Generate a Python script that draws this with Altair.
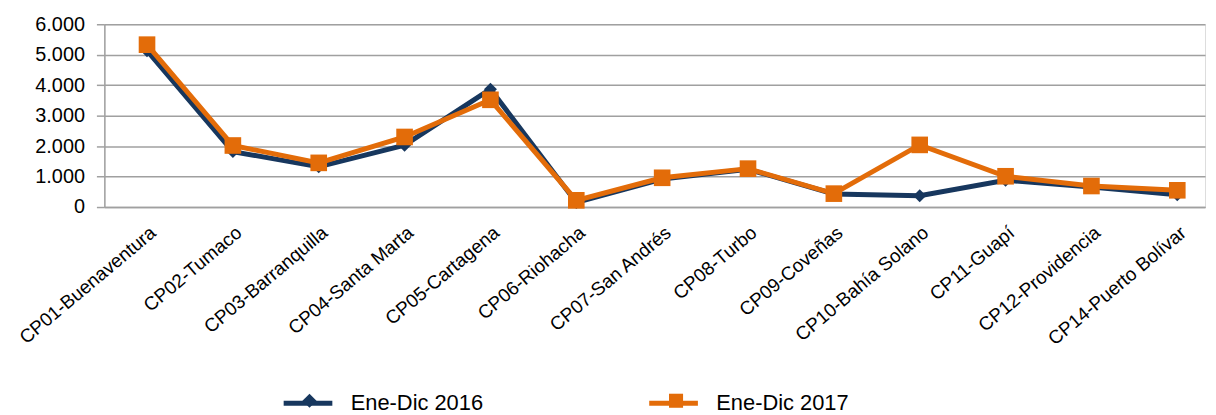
import altair as alt
import pandas as pd

categories = ["CP01-Buenaventura", "CP02-Tumaco", "CP03-Barranquilla", "CP04-Santa Marta",
              "CP05-Cartagena", "CP06-Riohacha", "CP07-San Andrés", "CP08-Turbo",
              "CP09-Coveñas", "CP10-Bahía Solano", "CP11-Guapí", "CP12-Providencia",
              "CP14-Puerto Bolívar"]
series_names = ["Ene-Dic 2016", "Ene-Dic 2017"]
values_2016 = [5130, 1820, 1320, 2030, 3870, 150, 920, 1240, 430, 370, 880, 660, 400]
values_2017 = [5330, 2020, 1450, 2300, 3520, 220, 960, 1260, 440, 2040, 1010, 690, 550]
colors = ["#17375E", "#E36C09"]
shapes = ["diamond", "square"]

rows = []
for s, vals in zip(series_names, [values_2016, values_2017]):
    for c, v in zip(categories, vals):
        rows.append({"Puerto": c, "Serie": s, "Valor": v})
df = pd.DataFrame(rows)

FONT = "Liberation Sans"

x = alt.X("Puerto:N", sort=categories,
          scale=alt.Scale(type="point", padding=0.41, align=0.606),
          axis=alt.Axis(title=None, labelAngle=-40, labelFontSize=19, labelColor="#000000",
                        labelFont=FONT, ticks=False, domainColor="#A0A0A0", domainWidth=1.5,
                        labelPadding=16, grid=False))
y = alt.Y("Valor:Q", scale=alt.Scale(domain=[0, 6000], nice=False),
          axis=alt.Axis(title=None, values=[0, 1000, 2000, 3000, 4000, 5000, 6000],
                        labelExpr="replace(format(datum.value, ','), ',', '.')",
                        labelFontSize=20, labelFont=FONT, labelColor="#000000",
                        tickSize=8, tickColor="#A0A0A0", tickWidth=1.5,
                        domainColor="#A0A0A0", domainWidth=1.5,
                        gridColor="#A0A0A0", gridWidth=1.5, labelPadding=12))

color_scale = alt.Scale(domain=series_names, range=colors)

lines = alt.Chart(df).mark_line(strokeWidth=5).encode(
    x=x, y=y,
    color=alt.Color("Serie:N", scale=color_scale,
                    legend=alt.Legend(title=None, orient="none", direction="horizontal",
                                      legendX=178, legendY=354.5,
                                      symbolType="stroke", symbolSize=2401,
                                      symbolStrokeWidth=5, labelFontSize=22,
                                      labelFont=FONT, labelColor="#000000",
                                      labelOffset=16, columnPadding=156)),
    order=alt.Order("Serie:N"),
    detail="Serie:N",
)

points = alt.Chart(df).mark_point(filled=True, opacity=1).encode(
    x=x, y=y,
    color=alt.Color("Serie:N", scale=color_scale,
                    legend=alt.Legend(title=None, orient="none", direction="horizontal",
                                      legendX=195.5, legendY=368,
                                      symbolSize=200, symbolOpacity=1,
                                      labelExpr="''", labelFontSize=22,
                                      labelOffset=0, columnPadding=347)),
    shape=alt.Shape("Serie:N", scale=alt.Scale(domain=series_names, range=shapes)),
    size=alt.Size("Serie:N", scale=alt.Scale(domain=series_names, range=[170, 280]), legend=None),
)

chart = alt.layer(lines, points).resolve_legend(color="independent", shape="independent").properties(
    width=1108, height=184,
    autosize=alt.AutoSizeParams(type="none"),
    padding={"left": 97, "top": 15, "right": 3, "bottom": 210},
).configure_view(stroke=None).configure(background="#FFFFFF")

chart.save("out.html", embed_options={"renderer": "svg", "actions": False})
